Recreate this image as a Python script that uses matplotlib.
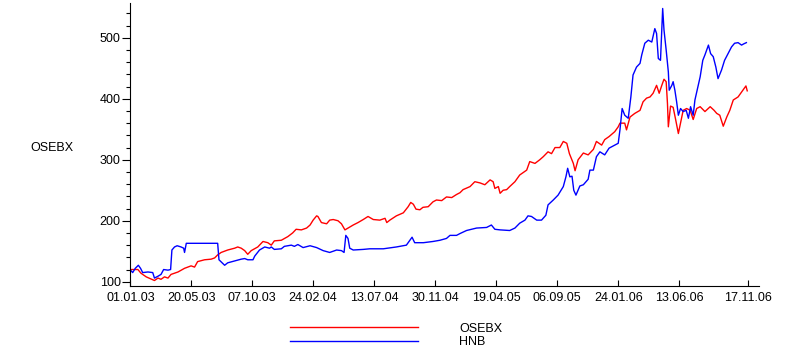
import matplotlib
matplotlib.use('Agg')
import matplotlib.pyplot as plt
from matplotlib.ticker import MultipleLocator
import pandas as pd

# days after 01.01.03 and index level
osebx_days = [0, 17, 24, 36, 55, 63, 70, 78, 86, 93,
              109, 124, 139, 147, 154, 170, 185, 193, 200, 208,
              223, 239, 246, 254, 262, 269, 277, 292, 304, 315,
              323, 330, 346, 361, 372, 380, 392, 404, 412, 419,
              427, 430, 438, 450, 457, 465, 476, 484, 492, 499,
              511, 522, 534, 545, 557, 572, 584, 588, 595, 610,
              626, 637, 643, 649, 655, 664, 671, 683, 694, 702,
              714, 725, 737, 748, 756, 763, 779, 790, 802, 813,
              825, 832, 836, 844, 848, 855, 863, 870, 882, 893,
              909, 916, 928, 939, 947, 958, 966, 974, 985, 993,
              1001, 1007, 1016, 1020, 1027, 1039, 1050, 1062, 1069, 1081,
              1088, 1098, 1111, 1119, 1123, 1134, 1138, 1146, 1157, 1169,
              1176, 1184, 1192, 1199, 1207, 1213, 1219, 1224, 1229, 1232,
              1234, 1239, 1245, 1251, 1257, 1262, 1268, 1276, 1284, 1291,
              1299, 1307, 1318, 1330, 1339, 1345, 1352, 1360, 1368, 1375,
              1383, 1394, 1405, 1412, 1415]
osebx = [120, 120, 114, 108, 102, 106, 104, 108, 106, 112,
         116, 122, 126, 124, 133, 136, 137, 139, 144, 148,
         152, 155, 157, 155, 151, 145, 151, 157, 166, 164,
         160, 167, 168, 174, 180, 186, 185, 188, 193, 201,
         208, 207, 197, 195, 201, 202, 200, 195, 185, 188,
         193, 197, 202, 207, 202, 201, 204, 197, 201, 208,
         213, 223, 230, 227, 219, 218, 222, 223, 231, 234,
         233, 239, 238, 243, 246, 251, 256, 264, 262, 259,
         267, 264, 253, 256, 245, 250, 251, 256, 264, 275,
         283, 297, 294, 300, 305, 313, 310, 320, 320, 330,
         327, 310, 294, 282, 300, 311, 308, 317, 330, 324,
         333, 338, 346, 354, 360, 360, 349, 370, 376, 381,
         395, 401, 403, 409, 422, 409, 422, 432, 428, 392,
         354, 388, 386, 365, 343, 360, 381, 384, 381, 366,
         384, 387, 379, 387, 381, 376, 373, 355, 370, 381,
         398, 403, 414, 421, 413]

hnb_days = [0, 5, 11, 18, 23, 28, 40, 51, 55, 63,
            70, 76, 86, 92, 95, 101, 107, 116, 122, 124,
            128, 200, 203, 216, 223, 239, 254, 262, 269, 281,
            285, 296, 308, 319, 323, 330, 346, 353, 369, 376,
            384, 396, 412, 427, 442, 457, 473, 484, 490, 494,
            499, 503, 511, 534, 549, 580, 610, 633, 641, 646,
            652, 672, 694, 710, 725, 733, 748, 756, 771, 794,
            817, 828, 836, 848, 870, 882, 893, 905, 912, 920,
            932, 943, 953, 958, 970, 981, 993, 999, 1003, 1008,
            1013, 1017, 1022, 1031, 1039, 1050, 1054, 1062, 1069, 1077,
            1088, 1098, 1111, 1119, 1123, 1128, 1134, 1142, 1148, 1153,
            1161, 1169, 1173, 1180, 1188, 1196, 1203, 1207, 1211, 1216,
            1221, 1224, 1229, 1234, 1236, 1242, 1245, 1249, 1253, 1257,
            1262, 1268, 1275, 1280, 1285, 1291, 1295, 1300, 1307, 1313,
            1318, 1326, 1331, 1337, 1343, 1348, 1356, 1363, 1371, 1379,
            1386, 1394, 1402, 1407, 1413]
hnb = [119, 115, 122, 127, 122, 115, 116, 115, 106, 109,
       112, 120, 119, 120, 152, 157, 159, 157, 155, 148,
       163, 163, 136, 127, 131, 134, 137, 138, 136, 136,
       142, 152, 157, 155, 157, 153, 154, 158, 160, 158,
       161, 156, 159, 156, 151, 148, 152, 151, 148, 176,
       171, 155, 152, 153, 154, 154, 157, 160, 168, 173,
       164, 164, 166, 168, 171, 176, 176, 179, 184, 188,
       189, 193, 186, 185, 184, 188, 196, 201, 208, 207,
       201, 201, 209, 226, 234, 242, 256, 272, 286, 272,
       273, 250, 242, 257, 259, 268, 283, 283, 305, 313,
       308, 319, 324, 327, 349, 384, 373, 368, 403, 439,
       452, 458, 472, 491, 496, 493, 515, 507, 466, 463,
       548, 513, 480, 444, 414, 422, 428, 414, 395, 373,
       384, 379, 381, 368, 387, 373, 398, 414, 436, 463,
       472, 488, 474, 469, 452, 433, 447, 463, 474, 485,
       491, 492, 488, 490, 492]

tick_labels = ['01.01.03', '20.05.03', '07.10.03', '24.02.04', '13.07.04',
               '30.11.04', '19.04.05', '06.09.05', '24.01.06', '13.06.06',
               '17.11.06']

plt.rcParams['font.family'] = ['Liberation Sans', 'DejaVu Sans']
plt.rcParams['font.size'] = 9

start = pd.Timestamp('2003-01-01')
osebx_dates = start + pd.to_timedelta(osebx_days, unit='D')
hnb_dates = start + pd.to_timedelta(hnb_days, unit='D')
tick_dates = pd.to_datetime(tick_labels, format='%d.%m.%y')

W, H = 804, 356
fig = plt.figure(figsize=(W / 100, H / 100), dpi=100)
ax = fig.add_axes([130.5 / W, 1 - 286 / H, (759 - 130.5) / W, (286 - 3) / H])

ax.plot(osebx_dates, osebx, color='#ff0000', lw=1.0, label='OSEBX')
ax.plot(hnb_dates, hnb, color='#0000ff', lw=1.0, label='HNB')

ax.set_xlim(start, start + pd.Timedelta(days=1442))
ax.set_ylim(93, 557)

for s in ['top', 'right']:
    ax.spines[s].set_visible(False)
for s in ['left', 'bottom']:
    ax.spines[s].set_linewidth(0.8)

ax.set_xticks(tick_dates)
ax.set_xticklabels(tick_labels)
ax.set_yticks([100, 200, 300, 400, 500])
ax.yaxis.set_minor_locator(MultipleLocator(20))
ax.tick_params(axis='x', direction='in', length=4, width=0.8, pad=4)
ax.tick_params(axis='y', which='major', direction='out', length=6, width=0.8, pad=1)
ax.tick_params(axis='y', which='minor', direction='out', length=3, width=0.8)

fig.text(52 / W, 1 - 148 / H, 'OSEBX', ha='center', va='center')

ax.legend(loc='center left', bbox_to_anchor=(290 / W, 1 - 335.5 / H),
          bbox_transform=fig.transFigure, frameon=False,
          handlelength=10.24, handletextpad=3.3, labelspacing=0.15,
          borderpad=0, borderaxespad=0)

fig.savefig('out.png', dpi=100)
